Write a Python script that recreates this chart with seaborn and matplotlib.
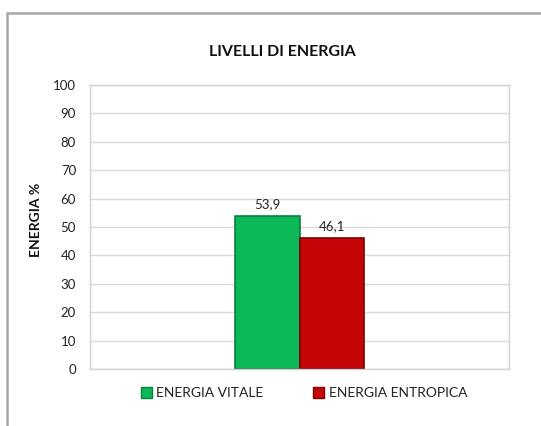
import matplotlib
matplotlib.use("Agg")
import matplotlib.pyplot as plt
import seaborn as sns
import pandas as pd
from matplotlib.patches import Rectangle

series = ["ENERGIA VITALE", "ENERGIA ENTROPICA"]
values = [53.9, 46.1]
category = ["Livelli"]
colors = ["#0cb858", "#c50606"]
edge_colors = ["#07833c", "#7e0202"]
yticks = list(range(0, 101, 10))

sns.set_theme(style="white")
plt.rcParams['font.family'] = ['Lato', 'DejaVu Sans']

df = pd.DataFrame({"cat": category * len(series), "serie": series, "val": values})

fig = plt.figure(figsize=(5.41, 4.26), dpi=100)
ax = fig.add_axes([90/541, 1-369/426, 419/541, 284/426])

sns.barplot(data=df, x="cat", y="val", hue="serie", hue_order=series,
            palette=colors, width=0.31, ax=ax, legend=False, saturation=1)

for patch, ec in zip(ax.patches, edge_colors):
    patch.set_edgecolor(ec)
    patch.set_linewidth(1.2)

for cont in ax.containers:
    ax.bar_label(cont, labels=[f"{v:.1f}".replace(".", ",") for v in cont.datavalues],
                 padding=4, fontsize=9.5, color="#222222")

ax.set_ylim(0, 100)
ax.set_xlim(-0.5, 0.5)
ax.set_yticks(yticks)
ax.set_yticklabels([str(t) for t in yticks], fontsize=9.5, color="#222222")
ax.set_xticks([])
ax.set_xlabel("")
ax.set_ylabel("ENERGIA %", fontsize=10, color="#111111", fontweight="bold")
ax.yaxis.set_label_coords((42 - 90) / 419, 0.525)
ax.yaxis.grid(True, color="#d9d9d9", linewidth=1)
ax.set_axisbelow(True)
ax.tick_params(axis="y", length=0, pad=10)
for sp in ax.spines.values():
    sp.set_color("#d0d0d0")
    sp.set_linewidth(1)

fig.text(282/541, 1-52/426, "LIVELLI DI ENERGIA", ha="center", va="center",
         fontsize=11.5, fontweight="bold", color="#111111")

handles = [Rectangle((0, 0), 1, 1, facecolor=c, edgecolor=e, linewidth=1)
           for c, e in zip(colors, edge_colors)]
fig.legend(handles, series, loc="center", bbox_to_anchor=(304/541, 1-393/426),
           ncol=2, frameon=False, fontsize=10, handlelength=0.8, handleheight=0.8,
           handletextpad=0.3, columnspacing=3.6, labelcolor="#222222")

fig.add_artist(Rectangle((6.5/541, -0.1), 1.2, 1-13/426+0.1, transform=fig.transFigure,
                         fill=False, edgecolor="#a6a6a6", linewidth=1.8, clip_on=False))

fig.savefig("out.png", dpi=100)
